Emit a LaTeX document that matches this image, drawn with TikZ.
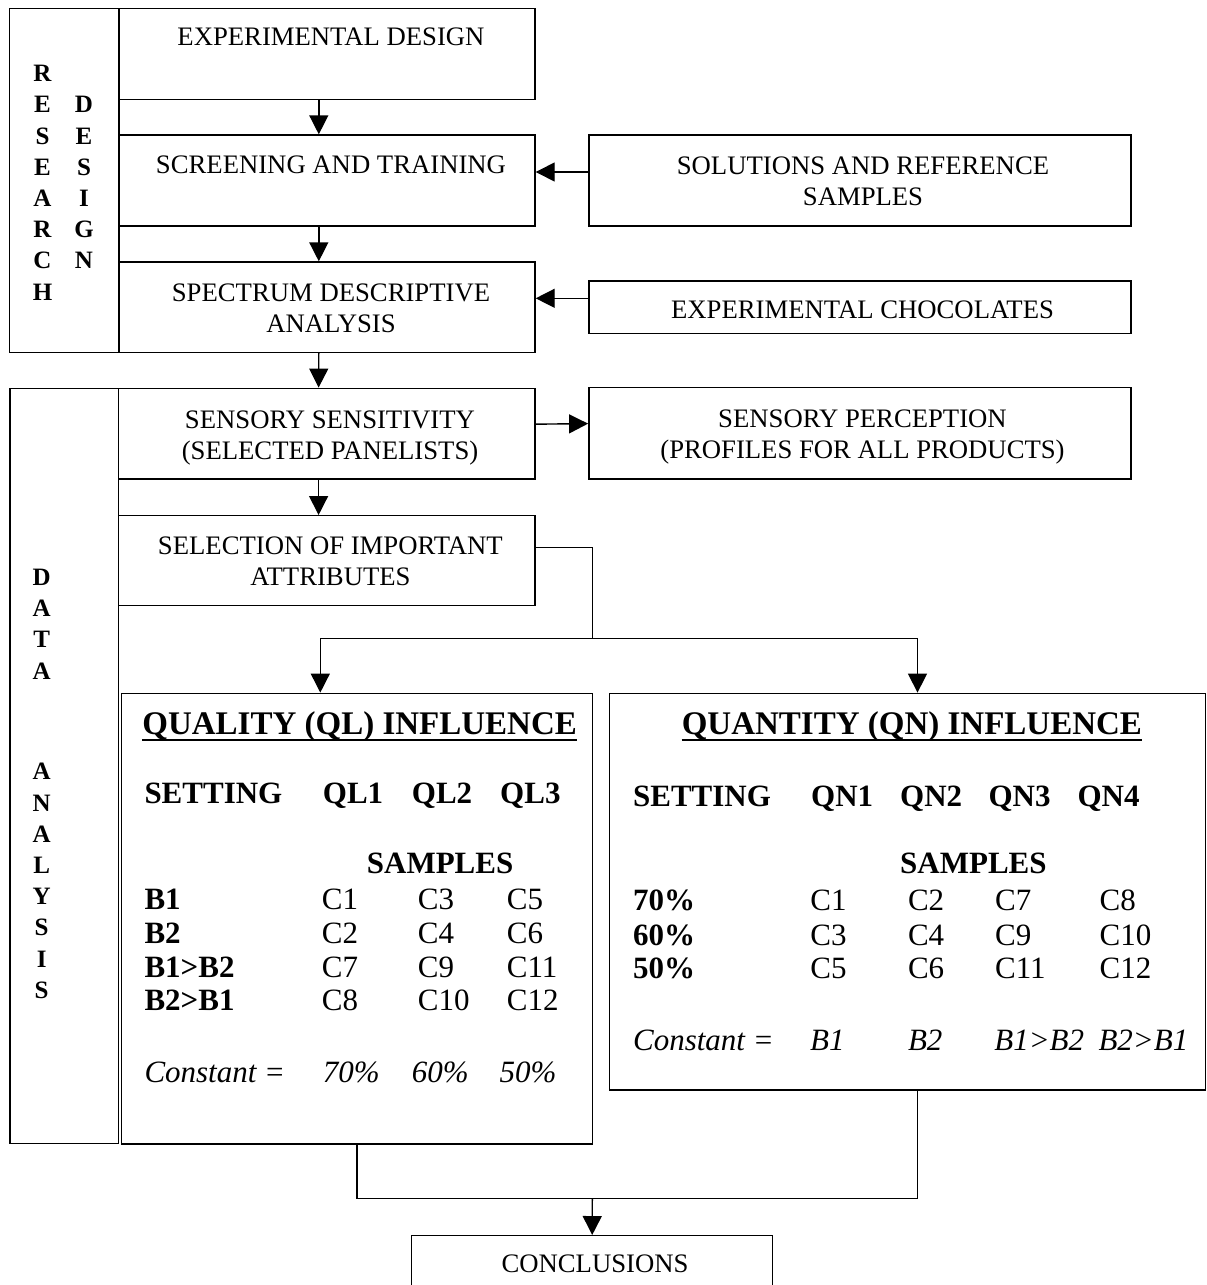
\documentclass[tikz,border=0pt]{standalone}
\usepackage{fontspec}
\setmainfont{Liberation Serif}
\usetikzlibrary{arrows.meta,fit}

% font sizes (1pt = one unit of the drawing grid)
\newcommand\dgBox{\fontsize{26.7pt}{31pt}\selectfont}
\newcommand\dgTab{\fontsize{31pt}{36pt}\selectfont}
\newcommand\dgHead{\fontsize{33pt}{38pt}\selectfont\bfseries}
\newcommand\dgSide{\fontsize{25pt}{31.2pt}\selectfont\bfseries}

\tikzset{
  cell/.style={draw, line width=1.4pt, inner sep=0pt},
  txt/.style={inner sep=0pt, align=center, font=\dgBox},
  arr/.style={line width=1.4pt, -{Triangle[length=19pt,width=19pt]}},
  wire/.style={line width=1.4pt},
  tab/.style={inner sep=0pt, anchor=base west, font=\dgTab},
  tabb/.style={tab, font=\dgTab\bfseries},
  tabi/.style={tab, font=\dgTab\itshape},
  head/.style={inner sep=0pt, anchor=base, font=\dgHead},
  side/.style={inner sep=0pt, anchor=north, align=center, font=\dgSide},
}

\begin{document}
\begin{tikzpicture}[x=1pt, y=-1pt]
\useasboundingbox (0,0) rectangle (1207,1285);
\clip (0,0) rectangle (1207,1285);
\fill[white] (0,0) rectangle (1207,1285);

% ---- research design block ----
\node[cell, fit={(9.6,8.3) (119,352.3)}] (rd) {};
\node[side] (rdA) at (42.5,65.2) {R\\E\\S\\E\\A\\R\\C\\H};
\node[side] (rdB) at (84,96.4) {D\\E\\S\\I\\G\\N};

\node[cell, fit={(119,8.3) (535,99.3)}] (ed) {};
\node[cell, fit={(119,135) (535,226)}] (scr) {};
\node[cell, fit={(119,262) (535,352.3)}] (spec) {};
\node[cell, fit={(588.8,135) (1131,226)}] (sol) {};
\node[cell, fit={(588.8,281) (1131,333.3)}] (choc) {};

\node[txt] (edT) at (331,39.4) {\strut EXPERIMENTAL DESIGN};
\node[txt] (scrT) at (331,167.7) {\strut SCREENING AND TRAINING};
\node[txt] (specT) at (331,310.7) {\strut SPECTRUM DESCRIPTIVE\\\strut ANALYSIS};
\node[txt] (solT) at (863,183.5) {\strut SOLUTIONS AND REFERENCE\\\strut SAMPLES};
\node[txt] (chocT) at (862.5,312) {\strut EXPERIMENTAL CHOCOLATES};

\draw[arr] ([xshift=-8.2pt]ed.south) -- ([xshift=-8.2pt]scr.north);
\draw[arr] ([xshift=-8.2pt]scr.south) -- ([xshift=-8.2pt]spec.north);
\draw[arr] ([yshift=8.5pt]sol.west) -- ([yshift=8.5pt]scr.east);
\draw[arr] ([yshift=8.85pt]choc.west) -- ([yshift=8.85pt]spec.east);

% ---- data analysis block ----
\node[cell, fit={(10,388.3) (118.6,1143.5)}] (da) {};
\node[side] (daA) at (41.7,569) {D\\A\\T\\A};
\node[side] (daB) at (41.7,763.2) {A\\N\\A\\L\\Y\\S\\I\\S};

\node[cell, fit={(118.6,388.3) (535,479)}] (sens) {};
\node[cell, fit={(588.8,387.3) (1131,479)}] (perc) {};
\node[cell, fit={(118.6,515.7) (535,605.7)}] (sel) {};

\node[txt] (sensT) at (330,437.3) {\strut SENSORY SENSITIVITY\\\strut (SELECTED PANELISTS)};
\node[txt] (percT) at (862.5,436.8) {\strut SENSORY PERCEPTION\\\strut (PROFILES FOR ALL PRODUCTS)};
\node[txt] (selT) at (330.4,564.2) {\strut SELECTION OF IMPORTANT\\\strut ATTRIBUTES};

\draw[arr] ([xshift=-8.2pt]spec.south) -- ([xshift=-8.2pt]sens.north);
\draw[arr] ([xshift=-8.2pt]sens.south) -- ([xshift=-8.2pt]sel.north);
\draw[arr] ([yshift=9.5pt]sens.east) -- ([yshift=9.5pt]perc.west);

% ---- quality influence ----
\node[cell, fit={(121.7,693.3) (592.3,1144)}] (ql) {};
\node[head] (qlH) at (359.6,734.2) {QUALITY (QL) INFLUENCE};
\draw[line width=2.2pt] ([yshift=-5.8pt]qlH.base west) -- ([yshift=-5.8pt]qlH.base east);

\node[tabb] (qlS) at (144.3,803.8) {SETTING};
\node[tabb] (qlC1) at (322.7,803.8) {QL1};
\node[tabb] (qlC2) at (411.7,803.8) {QL2};
\node[tabb] (qlC3) at (500,803.8) {QL3};
\node[tabb] (qlSm) at (366.7,873.6) {SAMPLES};

\node[tabb] (qlR1) at (144.3,909.8) {B1};
\node[tabb] (qlR2) at (144.3,943.3) {B2};
\node[tabb] (qlR3) at (144.3,977.3) {B1>B2};
\node[tabb] (qlR4) at (144.3,1010.8) {B2>B1};

\node[tab] (ql11) at (321.7,909.8) {C1};
\node[tab] (ql12) at (417.7,909.8) {C3};
\node[tab] (ql13) at (506.7,909.8) {C5};
\node[tab] (ql21) at (321.7,943.3) {C2};
\node[tab] (ql22) at (417.7,943.3) {C4};
\node[tab] (ql23) at (506.7,943.3) {C6};
\node[tab] (ql31) at (321.7,977.3) {C7};
\node[tab] (ql32) at (417.7,977.3) {C9};
\node[tab] (ql33) at (506.7,977.3) {C11};
\node[tab] (ql41) at (321.7,1010.8) {C8};
\node[tab] (ql42) at (417.7,1010.8) {C10};
\node[tab] (ql43) at (506.7,1010.8) {C12};

\node[tabi] (qlK) at (144.3,1082) {Constant =};
\node[tabi] (qlK1) at (322.7,1082) {70\%};
\node[tabi] (qlK2) at (411.7,1082) {60\%};
\node[tabi] (qlK3) at (499.3,1082) {50\%};

% ---- quantity influence ----
\node[cell, fit={(609.7,693.3) (1205.5,1090)}] (qn) {};
\node[head] (qnH) at (911.9,734.2) {QUANTITY (QN) INFLUENCE};
\draw[line width=2.2pt] ([yshift=-5.8pt]qnH.base west) -- ([yshift=-5.8pt]qnH.base east);

\node[tabb] (qnS) at (632.9,806.3) {SETTING};
\node[tabb] (qnC1) at (811,806.3) {QN1};
\node[tabb] (qnC2) at (900,806.3) {QN2};
\node[tabb] (qnC3) at (988.3,806.3) {QN3};
\node[tabb] (qnC4) at (1077.3,806.3) {QN4};
\node[tabb] (qnSm) at (900,873.6) {SAMPLES};

\node[tabb] (qnR1) at (632.9,910.3) {70\%};
\node[tabb] (qnR2) at (632.9,945.3) {60\%};
\node[tabb] (qnR3) at (632.9,978.6) {50\%};

\node[tab] (qn11) at (810.2,910.3) {C1};
\node[tab] (qn12) at (907.8,910.3) {C2};
\node[tab] (qn13) at (994.9,910.3) {C7};
\node[tab] (qn14) at (1099.4,910.3) {C8};
\node[tab] (qn21) at (810.2,945.3) {C3};
\node[tab] (qn22) at (907.8,945.3) {C4};
\node[tab] (qn23) at (994.9,945.3) {C9};
\node[tab] (qn24) at (1099.4,945.3) {C10};
\node[tab] (qn31) at (810.2,978.6) {C5};
\node[tab] (qn32) at (907.8,978.6) {C6};
\node[tab] (qn33) at (994.9,978.6) {C11};
\node[tab] (qn34) at (1099.4,978.6) {C12};

\node[tabi] (qnK) at (632.9,1050.3) {Constant =};
\node[tabi] (qnK1) at (810,1050.3) {B1};
\node[tabi] (qnK2) at (907.8,1050.3) {B2};
\node[tabi] (qnK3) at (994.1,1050.3) {B1>B2};
\node[tabi] (qnK4) at (1098.3,1050.3) {B2>B1};

% ---- branching from attribute selection ----
\coordinate (split) at (592.3,638.3);
\draw[wire] ([yshift=13pt]sel.east) -| (split);
\draw[arr] (split) -| ([xshift=-36.7pt]ql.north);
\draw[arr] (split) -| ([xshift=9.9pt]qn.north);

% ---- conclusions ----
\node[cell, fit={(411.7,1235.7) (772.7,1300)}] (concl) {};
\node[txt] (conclT) at (595,1266) {\strut CONCLUSIONS};

\coordinate (join) at (592.3,1198.3);
\draw[wire] (ql.south) |- (join) -| ([xshift=9.9pt]qn.south);
\draw[arr] (join) -- (concl.north);
\end{tikzpicture}
\end{document}
